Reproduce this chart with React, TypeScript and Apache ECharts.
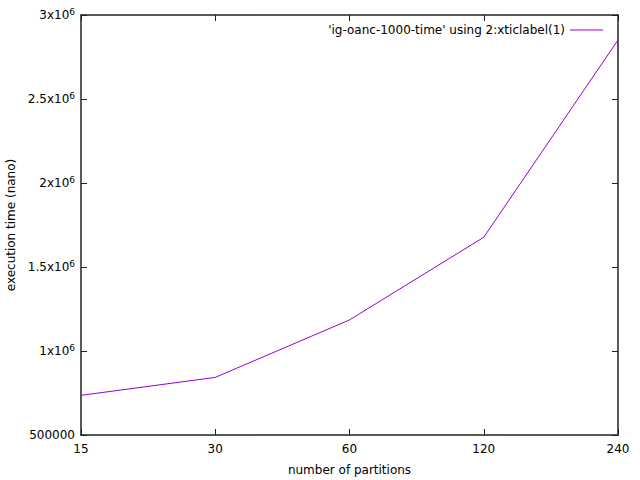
import React, { useEffect, useRef } from "react";
import * as echarts from "echarts";

const categories = ["15", "30", "60", "120", "240"];
const timeValues = [736000, 843000, 1185000, 1677000, 2851000];
const seriesName = "'ig-oanc-1000-time' using 2:xticlabel(1)";
const yTicks = [500000, 1000000, 1500000, 2000000, 2500000, 3000000];

const FONT = "DejaVu Sans";

function fmtY(v: number): string {
  if (v < 1000000) return String(v);
  const m = v / 1000000;
  return `${m}x10{sup|6}`;
}

export default function App() {
  const ref = useRef<HTMLDivElement>(null);
  useEffect(() => {
    if (!ref.current) return;
    const chart = echarts.init(ref.current, undefined, { renderer: "svg" });
    const axisLine = { show: true, lineStyle: { color: "#222", width: 1.5 } };
    const tick = { show: true, inside: true, length: 6, lineStyle: { color: "#222", width: 1 } };
    chart.setOption({
      animation: false,
      textStyle: { fontFamily: FONT },
      grid: { left: 81, right: 22, top: 15, bottom: 45, containLabel: false, outerBoundsMode: "none" },
      legend: {
        show: true,
        top: 19,
        right: 32,
        align: "right",
        itemWidth: 33,
        itemHeight: 10,
        itemGap: 10,
        textStyle: { fontFamily: FONT, fontSize: 12, color: "#000" },
        data: [{ name: seriesName, icon: "path://M0,5L33,5L33,6L0,6Z" }],
      },
      xAxis: [
        {
          type: "category",
          data: categories,
          boundaryGap: false,
          position: "bottom",
          axisLine,
          axisTick: { ...tick, alignWithLabel: true },
          axisLabel: { color: "#000", fontFamily: FONT, fontSize: 12, margin: 8 },
          splitLine: { show: false },
          name: "number of partitions",
          nameLocation: "middle",
          nameGap: 29,
          nameTextStyle: { color: "#000", fontFamily: FONT, fontSize: 12, verticalAlign: "top" },
        },
        {
          type: "category",
          data: categories,
          boundaryGap: false,
          position: "top",
          axisLine,
          axisTick: tick,
          axisLabel: { show: false },
        },
      ],
      yAxis: [
        {
          type: "value",
          min: yTicks[0],
          max: yTicks[yTicks.length - 1],
          interval: 500000,
          position: "left",
          axisLine,
          axisTick: tick,
          splitLine: { show: false },
          axisLabel: {
            color: "#000",
            fontFamily: FONT,
            fontSize: 12,
            margin: 6,
            formatter: (v: number) => fmtY(v),
            rich: {
              sup: { fontSize: 9, verticalAlign: "top", color: "#000", fontFamily: FONT, padding: [0, 0, 6, 0] },
            },
          },
          name: "execution time (nano)",
          nameLocation: "middle",
          nameGap: 63,
          nameRotate: 90,
          nameTextStyle: { color: "#000", fontFamily: FONT, fontSize: 12 },
        },
        {
          type: "value",
          min: yTicks[0],
          max: yTicks[yTicks.length - 1],
          interval: 500000,
          position: "right",
          axisLine,
          axisTick: tick,
          splitLine: { show: false },
          axisLabel: { show: false },
        },
      ],
      series: [
        {
          name: seriesName,
          type: "line",
          data: timeValues,
          xAxisIndex: 0,
          yAxisIndex: 0,
          showSymbol: false,
          symbol: "none",
          lineStyle: { color: "#9400d3", width: 1 },
          itemStyle: { color: "#9400d3" },
        },
      ],
    });
    return () => chart.dispose();
  }, []);
  return <div ref={ref} style={{ width: 640, height: 480, position: "absolute", left: 0, top: 0 }} />;
}
